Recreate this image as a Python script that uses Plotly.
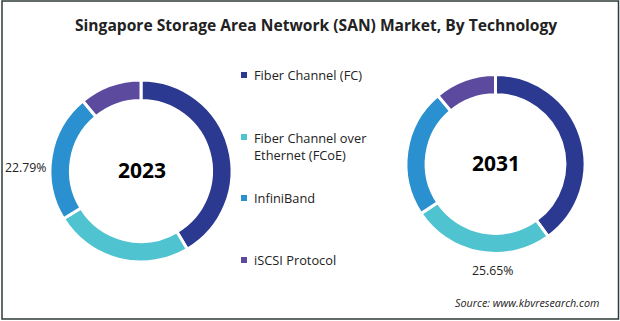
import plotly.graph_objects as go

W, H = 620, 321

categories = ["Fiber Channel (FC)", "Fiber Channel over Ethernet (FCoE)", "InfiniBand", "iSCSI Protocol"]
legend_labels = ["Fiber Channel (FC)", "Fiber Channel over<br>Ethernet (FCoE)", "InfiniBand", "iSCSI Protocol"]
values_2023 = [41.5, 24.7, 22.79, 11.01]
values_2031 = [40.0, 25.65, 23.2, 11.15]
years = ["2023", "2031"]
colors = ["#2B3990", "#4FC3CF", "#2A90CF", "#5B4A9E"]

fig = go.Figure()

def px_dom(x0, x1, ytop, ybot):
    return dict(x=[x0 / W, x1 / W], y=[1 - ybot / H, 1 - ytop / H])

doms = [px_dom(50, 232, 80, 262), px_dom(406, 585, 74.5, 253.5)]
for vals, dom in zip([values_2023, values_2031], doms):
    fig.add_trace(go.Pie(
        labels=categories, values=vals, hole=0.775, sort=False,
        direction="clockwise", rotation=0,
        marker=dict(colors=colors, line=dict(color="white", width=3)),
        textinfo="none", hoverinfo="label+percent", showlegend=False,
        domain=dom,
    ))

ann = []
font = "Open Sans, Noto Sans, sans-serif"
# title
ann.append(dict(x=0.509, y=1 - 25 / H, xref="paper", yref="paper", text="<b>Singapore Storage Area Network (SAN) Market, By Technology</b>",
                showarrow=False, font=dict(family=font, size=15.6, color="#222"), xanchor="center", yanchor="middle"))
# centre year labels
ann.append(dict(x=142 / W, y=1 - 170 / H, xref="paper", yref="paper", text="<b>" + years[0] + "</b>",
                showarrow=False, font=dict(family=font, size=21, color="#000"), xanchor="center", yanchor="middle"))
ann.append(dict(x=495.5 / W, y=1 - 163 / H, xref="paper", yref="paper", text="<b>" + years[1] + "</b>",
                showarrow=False, font=dict(family=font, size=21, color="#000"), xanchor="center", yanchor="middle"))
# percentage labels
ann.append(dict(x=25.5 / W, y=1 - 168 / H, xref="paper", yref="paper", text=f"{values_2023[2]:.2f}%",
                showarrow=False, font=dict(family=font, size=12.3, color="#222"), xanchor="center", yanchor="middle"))
ann.append(dict(x=493 / W, y=1 - 270 / H, xref="paper", yref="paper", text=f"{values_2031[1]:.2f}%",
                showarrow=False, font=dict(family=font, size=12.3, color="#222"), xanchor="center", yanchor="middle"))
# source
ann.append(dict(x=601 / W, y=1 - 302 / H, xref="paper", yref="paper", text="<i>Source: www.kbvresearch.com</i>",
                showarrow=False, font=dict(family=font, size=10.8, color="#222"), xanchor="right", yanchor="middle"))

# legend
leg_y = [75, 146, 198, 260]
shapes = []
for lab, col, ly in zip(legend_labels, colors, leg_y):
    ann.append(dict(x=252 / W, y=1 - ly / H, xref="paper", yref="paper", text=lab, align="left",
                    showarrow=False, font=dict(family=font, size=12.8, color="#222"), xanchor="left", yanchor="middle"))
    first_line_y = ly if "<br>" not in lab else ly - 9
    shapes.append(dict(type="rect", xref="paper", yref="paper", x0=241 / W, x1=247 / W,
                       y0=1 - (first_line_y + 3) / H, y1=1 - (first_line_y - 3) / H,
                       fillcolor=col, line=dict(width=0)))

# outer border
shapes.append(dict(type="rect", xref="paper", yref="paper", x0=2 / W, x1=618.5 / W, y0=1 - 319 / H, y1=1 - 1 / H,
                   line=dict(color="#2F3A3A", width=1.5), fillcolor="rgba(0,0,0,0)"))

fig.update_layout(width=W, height=H, margin=dict(l=0, r=0, t=0, b=0),
                  paper_bgcolor="white", plot_bgcolor="white",
                  annotations=ann, shapes=shapes)

fig.write_html("out.html")
